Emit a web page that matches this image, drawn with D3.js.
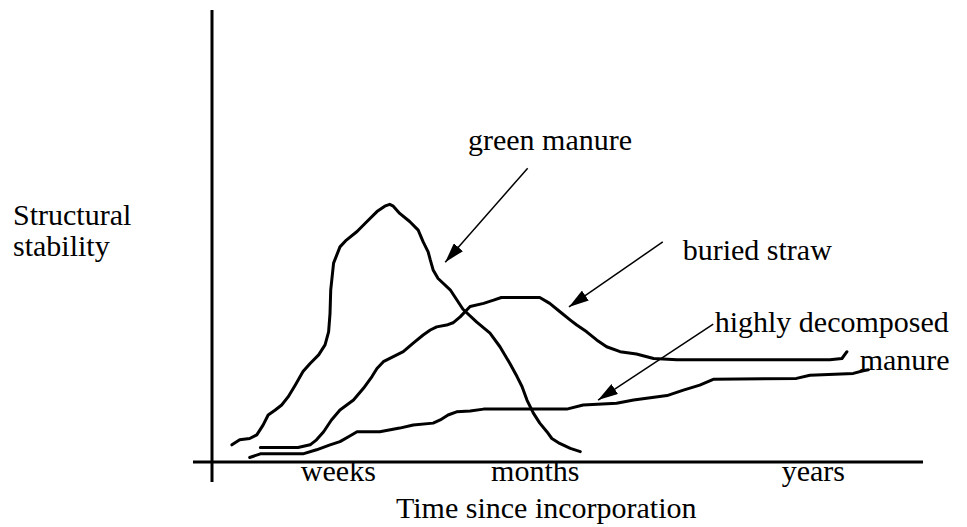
<!DOCTYPE html>
<html>
<head>
<meta charset="utf-8">
<script src="https://cdn.jsdelivr.net/npm/d3@7"></script>
<style>
  body { margin: 0; background: #fff; }
  svg text { font-family: "Liberation Serif", "Times New Roman", serif; font-size: 30px; fill: #000; }
</style>
</head>
<body>
<div id="chart"></div>
<script>
// curves, x = time (0-100), y = structural stability (0-100)
var greenManure = [
  [2.8,3.8],[3.9,4.9],[5.3,5.2],[6.3,6.0],[7.2,8.2],[7.9,10.4],[8.9,11.5],[9.8,12.6],
  [10.7,14.4],[11.7,17.0],[12.8,20.0],[13.8,21.8],[15.0,23.7],[15.9,25.9],[16.4,28.8],
  [16.6,32.9],[16.7,38.1],[17.1,44.0],[18.0,47.6],[18.9,49.1],[20.4,51.0],[21.8,53.2],
  [23.2,55.4],[24.3,56.6],[25.0,57.0],[25.5,56.6],[26.4,55.0],[27.8,53.2],[29.0,51.3],
  [29.7,48.7],[30.4,46.5],[30.7,44.7],[31.1,42.5],[31.8,40.6],[33.5,38.1],[35.3,33.8],
  [37.2,31.0],[39.1,28.5],[40.5,25.5],[41.9,21.8],[42.9,18.9],[43.6,16.7],[44.3,13.7],
  [45.2,10.8],[46.1,8.6],[47.1,6.7],[47.8,5.2],[48.9,4.1],[50.4,3.0],[51.8,2.3]
];
var buriedStraw = [
  [6.8,3.2],[12.1,3.2],[13.8,3.8],[14.7,4.9],[15.7,6.7],[16.8,9.3],[18.0,11.5],[19.9,13.7],
  [21.3,16.3],[22.5,18.9],[23.2,20.7],[24.1,22.2],[25.5,23.3],[26.9,24.4],[28.3,26.3],
  [29.7,28.1],[30.7,29.2],[31.6,29.9],[33.0,30.3],[33.9,30.8],[34.9,32.1],[36.3,34.4],
  [38.2,35.1],[39.6,35.8],[40.7,36.4],[46.1,36.4],[47.5,35.1],[48.9,33.3],[50.4,31.4],
  [51.3,30.3],[52.7,28.8],[54.1,27.0],[55.5,25.5],[57.4,24.4],[59.7,23.9],[62.1,22.9],
  [65.4,22.6],[86.9,22.6],[88.6,22.9],[89.3,24.4]
];
var decomposedManure = [
  [5.3,1.0],[6.8,1.8],[12.8,1.8],[14.7,2.7],[16.6,3.8],[18.0,4.5],[19.2,5.6],[20.4,6.7],
  [23.6,6.7],[26.4,7.5],[28.3,8.2],[31.1,8.6],[32.1,9.3],[33.2,10.4],[34.4,11.1],[36.3,11.3],
  [38.2,11.7],[49.9,11.7],[52.2,12.6],[56.9,13.0],[59.3,13.7],[64.0,14.7],[66.3,15.9],
  [68.6,17.0],[70.5,18.3],[82.2,18.5],[84.1,19.2],[90.2,19.6],[91.6,20.2],[92.3,20.4]
];

var tickLabels = ["weeks", "months", "years"];
var tickValues = [17.7, 45.4, 84.5];

// annotation text and its arrow (from -> to), in data units
var labelText = ["green manure", "buried straw", "highly decomposed", "manure"];
var labelPos = [[36.0, 69.0], [66.2, 44.7], [70.7, 28.8], [91.1, 20.4]];
var arrows = [
  [[44.4, 65.0], [32.8, 44.2]],
  [[63.4, 48.7], [50.2, 34.3]],
  [[70.5, 30.5], [54.3, 13.7]]
];

var W = 967, H = 527;

var svg = d3.select("#chart").append("svg")
    .attr("width", W)
    .attr("height", H);

svg.append("rect").attr("width", W).attr("height", H).attr("fill", "#fff");

var x = d3.scaleLinear().domain([0, 100]).range([212, 923]);
var y = d3.scaleLinear().domain([0, 100]).range([462, 10]);

// axes: plain thick lines crossing at the origin
svg.append("line")
    .attr("x1", x(0)).attr("x2", x(0))
    .attr("y1", y(100)).attr("y2", y(0) + 20)
    .attr("stroke", "#000").attr("stroke-width", 3);

svg.append("line")
    .attr("x1", x(0) - 19).attr("x2", x(100))
    .attr("y1", y(0)).attr("y2", y(0))
    .attr("stroke", "#000").attr("stroke-width", 3);

var xAxis = d3.axisBottom(x)
    .tickValues(tickValues)
    .tickFormat(function(d, i){ return tickLabels[i]; })
    .tickSize(0);

var gx = svg.append("g")
    .attr("class", "x axis")
    .attr("transform", "translate(0," + y(0) + ")")
    .call(xAxis);

gx.select(".domain").remove();
gx.selectAll("text")
    .attr("y", 19)
    .attr("dy", 0)
    .style("font-family", "'Liberation Serif', 'Times New Roman', serif")
    .style("font-size", "30px")
    .attr("fill", "#000");

svg.append("text")
    .attr("x", 396)
    .attr("y", 518)
    .text("Time since incorporation");

svg.append("text")
    .attr("x", 13)
    .attr("y", 225)
    .text("Structural");

svg.append("text")
    .attr("x", 13)
    .attr("y", 256)
    .text("stability");

var line = d3.line()
    .x(function(d){ return x(d[0]); })
    .y(function(d){ return y(d[1]); });

svg.selectAll("path.curve")
    .data([greenManure, buriedStraw, decomposedManure])
    .enter().append("path")
    .attr("class", "curve")
    .attr("d", line)
    .attr("fill", "none")
    .attr("stroke", "#000")
    .attr("stroke-width", 3)
    .attr("stroke-linejoin", "round")
    .attr("stroke-linecap", "round");

// arrowhead
svg.append("defs").append("marker")
    .attr("id", "head")
    .attr("markerUnits", "userSpaceOnUse")
    .attr("viewBox", "0 0 20 12")
    .attr("refX", 20)
    .attr("refY", 6)
    .attr("markerWidth", 20)
    .attr("markerHeight", 12)
    .attr("orient", "auto")
    .append("path")
    .attr("d", "M0,0 L20,6 L0,12 Z")
    .attr("fill", "#000");

svg.selectAll("line.arrow")
    .data(arrows)
    .enter().append("line")
    .attr("class", "arrow")
    .attr("x1", function(d){ return x(d[0][0]); })
    .attr("y1", function(d){ return y(d[0][1]); })
    .attr("x2", function(d){ return x(d[1][0]); })
    .attr("y2", function(d){ return y(d[1][1]); })
    .attr("stroke", "#000")
    .attr("stroke-width", 1.5)
    .attr("marker-end", "url(#head)");

svg.selectAll("text.label")
    .data(labelText)
    .enter().append("text")
    .attr("class", "label")
    .attr("x", function(d, i){ return x(labelPos[i][0]); })
    .attr("y", function(d, i){ return y(labelPos[i][1]); })
    .text(function(d){ return d; });
</script>
</body>
</html>
